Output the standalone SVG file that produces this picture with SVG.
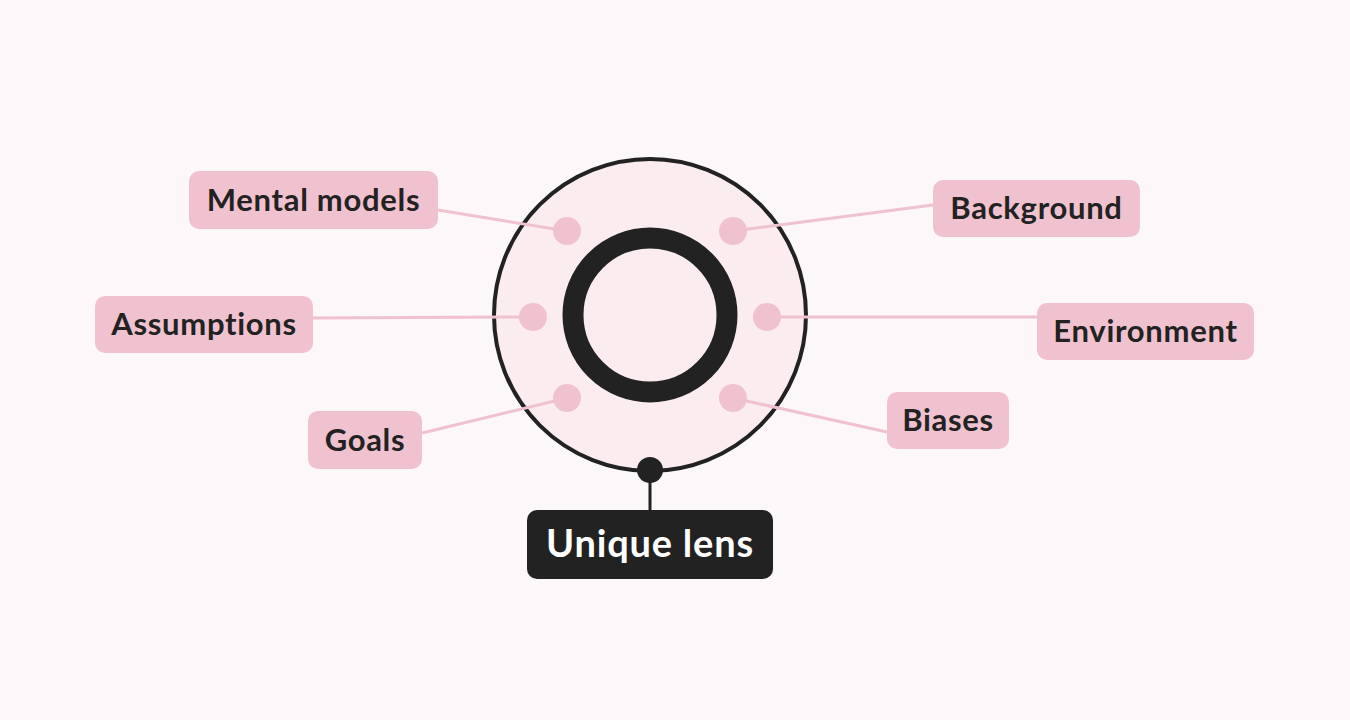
<svg xmlns="http://www.w3.org/2000/svg" width="1350" height="720" viewBox="0 0 1350 720">
<style>
.box{fill:#f0c2cf}
.lbl{font-family:Lato,"Noto Sans",sans-serif;font-weight:700;font-size:31px;letter-spacing:0.7px;fill:#222;text-anchor:middle}
.con{stroke:#f0c2cf;stroke-width:3;fill:none}
.dot{fill:#f0c2cf}
</style>
<rect width="1350" height="720" fill="#fcf7f8"/>
<g id="lens">
<circle cx="650" cy="315" r="156" fill="#fbecf0" stroke="#222" stroke-width="4"/>
<circle cx="650" cy="315" r="77" fill="none" stroke="#222" stroke-width="21"/>
</g>
<g id="connectors">
<line class="con" x1="438" y1="210" x2="567" y2="231"/>
<line class="con" x1="933" y1="205" x2="733" y2="231"/>
<line class="con" x1="313" y1="318" x2="533" y2="317"/>
<line class="con" x1="1037" y1="317" x2="767" y2="317"/>
<line class="con" x1="422" y1="433" x2="567" y2="398"/>
<line class="con" x1="887" y1="432" x2="733" y2="398"/>
<line x1="650" y1="470" x2="650" y2="512" stroke="#222" stroke-width="3"/>
</g>
<g id="anchors">
<circle class="dot" cx="567" cy="231" r="14"/>
<circle class="dot" cx="733" cy="231" r="14"/>
<circle class="dot" cx="533" cy="317" r="14"/>
<circle class="dot" cx="767" cy="317" r="14"/>
<circle class="dot" cx="567" cy="398" r="14"/>
<circle class="dot" cx="733" cy="398" r="14"/>
<circle cx="650" cy="470" r="13" fill="#222"/>
</g>
<g id="mental-models"><rect class="box" x="189" y="171" width="249" height="58" rx="10"/><text class="lbl" x="313.5" y="211">Mental models</text></g>
<g id="background"><rect class="box" x="933" y="180" width="207" height="57" rx="10"/><text class="lbl" x="1036.5" y="219">Background</text></g>
<g id="assumptions"><rect class="box" x="95" y="296" width="218" height="57" rx="10"/><text class="lbl" x="204" y="335">Assumptions</text></g>
<g id="environment"><rect class="box" x="1037" y="303" width="217" height="57" rx="10"/><text class="lbl" x="1145.5" y="342">Environment</text></g>
<g id="goals"><rect class="box" x="308" y="411" width="114" height="58" rx="10"/><text class="lbl" x="365" y="451">Goals</text></g>
<g id="biases"><rect class="box" x="887" y="392" width="122" height="57" rx="10"/><text class="lbl" x="948" y="431">Biases</text></g>
<g id="unique-lens"><rect x="527" y="510" width="246" height="69" rx="10" fill="#222"/><text x="650" y="557" font-family="Lato,'Noto Sans',sans-serif" font-weight="700" font-size="38" letter-spacing="0.8" fill="#fff" text-anchor="middle">Unique lens</text></g>
</svg>
